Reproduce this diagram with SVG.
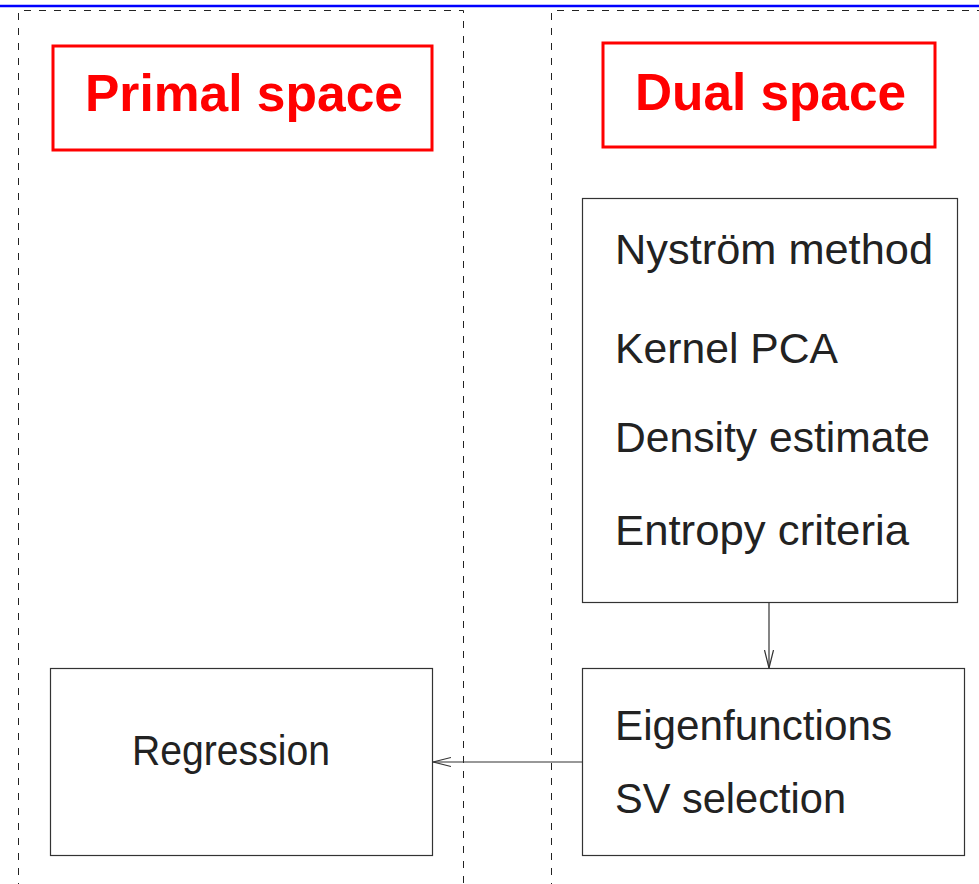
<svg xmlns="http://www.w3.org/2000/svg" width="979" height="884" viewBox="0 0 979 884">
<style>
.box{fill:#fff;stroke:#333;stroke-width:1.2}
.title{fill:#fff;stroke:#f00;stroke-width:3}
.frame{fill:none;stroke:#222;stroke-width:1;stroke-dasharray:7,8}
.t{font-family:"Liberation Sans",Arial,sans-serif;font-size:43px;fill:#222}
.h{font-family:"Liberation Sans",Arial,sans-serif;font-size:52px;font-weight:bold;fill:#f00}
.conn{fill:none;stroke:#333;stroke-width:1.2}
</style>
<defs>
<marker id="arr" markerUnits="userSpaceOnUse" markerWidth="20" markerHeight="12" refX="18" refY="5" orient="auto" viewBox="0 0 20 10">
<path d="M0,0.5 L18,5 L0,9.5" fill="none" stroke="#333" stroke-width="1.2"/>
</marker>
</defs>
<rect x="0" y="0" width="979" height="884" fill="#fff"/>
<line x1="0" y1="6" x2="979" y2="6" stroke="#00f" stroke-width="2.5"/>
<g id="frames">
<path class="frame" d="M18.5,890 V10.5 H463.5 V890"/>
<path class="frame" d="M551.5,890 V10.5 H985"/>
</g>
<g id="primal-title">
<rect class="title" x="53" y="46" width="379" height="104"/>
<text class="h" x="85" y="111" textLength="318" lengthAdjust="spacingAndGlyphs">Primal space</text>
</g>
<g id="dual-title">
<rect class="title" x="603" y="43" width="332" height="104"/>
<text class="h" x="635" y="110" textLength="271" lengthAdjust="spacingAndGlyphs">Dual space</text>
</g>
<g id="dual-methods">
<rect class="box" x="582.5" y="198.5" width="375" height="404"/>
<text class="t" x="615" y="264" textLength="318" lengthAdjust="spacingAndGlyphs">Nyström method</text>
<text class="t" x="615" y="363" textLength="223" lengthAdjust="spacingAndGlyphs">Kernel PCA</text>
<text class="t" x="615" y="452" textLength="315" lengthAdjust="spacingAndGlyphs">Density estimate</text>
<text class="t" x="615" y="545" textLength="294" lengthAdjust="spacingAndGlyphs">Entropy criteria</text>
</g>
<g id="eigen">
<rect class="box" x="582.5" y="668.5" width="382" height="187"/>
<text class="t" x="615" y="740" textLength="277" lengthAdjust="spacingAndGlyphs">Eigenfunctions</text>
<text class="t" x="615" y="813" textLength="231" lengthAdjust="spacingAndGlyphs">SV selection</text>
</g>
<g id="regression">
<rect class="box" x="50.5" y="668.5" width="382" height="187"/>
<text class="t" x="132" y="765" textLength="198" lengthAdjust="spacingAndGlyphs">Regression</text>
</g>
<g id="connectors">
<path class="conn" d="M769,603 V668" marker-end="url(#arr)"/>
<path class="conn" d="M582,762 H433" marker-end="url(#arr)"/>
</g>
</svg>
